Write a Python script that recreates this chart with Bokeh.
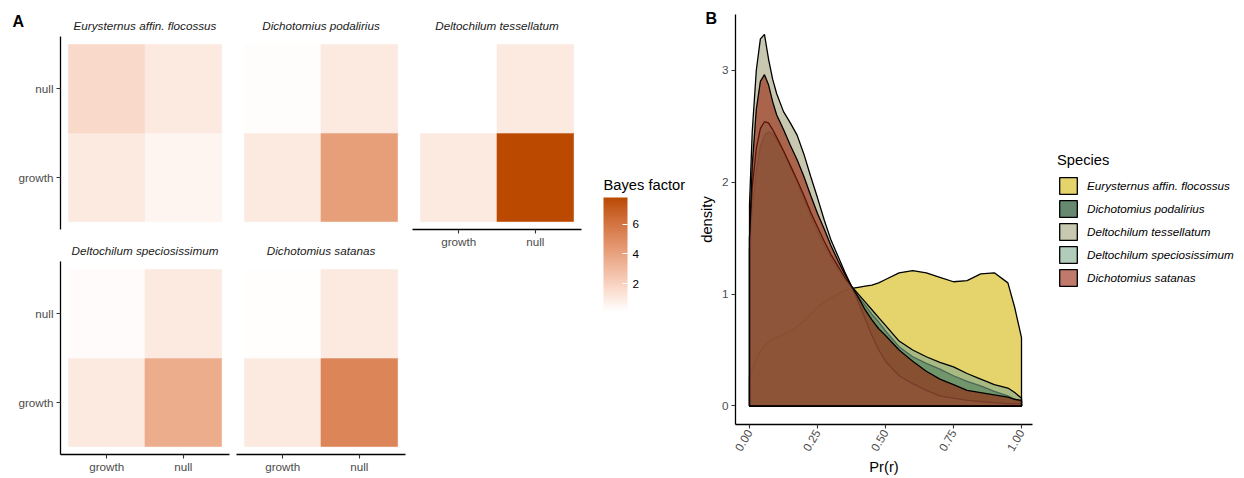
import numpy as np
from math import pi
from bokeh.plotting import figure
from bokeh.layouts import row, column
from bokeh.models import (ColumnDataSource, FactorRange, Range1d, LinearColorMapper, ColorBar,
                          FixedTicker, Legend, LegendItem, PrintfTickFormatter)
from bokeh.embed import file_html
from bokeh.resources import INLINE

# ---------------- data ----------------
species = ["Eurysternus affin. flocossus", "Dichotomius podalirius", "Deltochilum tessellatum",
           "Deltochilum speciosissimum", "Dichotomius satanas"]
models = ["growth", "null"]

# heatmap cells: x model, y model
cell_x = ["growth", "null", "growth", "null"]
cell_y = ["growth", "growth", "null", "null"]
bf_eurysternus = [1.0, 0.6, 1.7, 1.0]
bf_podalirius = [1.0, 4.2, 0.24, 1.0]
bf_tessellatum = [1.0, 7.8, 0.128, 1.0]
bf_speciosissimum = [1.0, 3.6, 0.28, 1.0]
bf_satanas = [1.0, 5.3, 0.19, 1.0]
colorbar_ticks = [2, 4, 6]

# density curves (panel B)
pr_r = [0, 0.01, 0.025, 0.04, 0.055, 0.07, 0.085, 0.1, 0.125, 0.15, 0.175, 0.2, 0.225, 0.25,
        0.275, 0.3, 0.325, 0.35, 0.375, 0.4, 0.425, 0.45, 0.475, 0.5, 0.55, 0.6, 0.65, 0.7,
        0.75, 0.8, 0.85, 0.9, 0.95, 0.975, 1.0]
dens_eurysternus = [0.26, 0.33, 0.42, 0.49, 0.54, 0.57, 0.6, 0.61, 0.64, 0.67, 0.71, 0.76, 0.82, 0.88,
                    0.93, 0.97, 1.0, 1.03, 1.05, 1.06, 1.07, 1.08, 1.1, 1.13, 1.19, 1.21, 1.19, 1.15,
                    1.11, 1.12, 1.18, 1.19, 1.1, 0.88, 0.61]
dens_podalirius = [1.4, 1.75, 2.1, 2.32, 2.42, 2.45, 2.43, 2.38, 2.27, 2.14, 2.0, 1.85, 1.7, 1.56,
                   1.43, 1.32, 1.22, 1.13, 1.06, 0.98, 0.9, 0.82, 0.75, 0.67, 0.53, 0.44, 0.38, 0.33,
                   0.27, 0.22, 0.18, 0.13, 0.09, 0.06, 0.04]
dens_tessellatum = [1.8, 2.45, 3.0, 3.28, 3.32, 3.1, 2.92, 2.79, 2.63, 2.53, 2.42, 2.25, 2.05, 1.86,
                    1.66, 1.48, 1.34, 1.2, 1.07, 0.93, 0.78, 0.63, 0.5, 0.4, 0.27, 0.2, 0.14, 0.09,
                    0.07, 0.05, 0.04, 0.03, 0.02, 0.02, 0.02]
dens_speciosissimum = [1.5, 1.95, 2.3, 2.48, 2.54, 2.53, 2.47, 2.4, 2.28, 2.15, 2.02, 1.88, 1.73, 1.6,
                       1.47, 1.35, 1.25, 1.15, 1.07, 1.0, 0.93, 0.86, 0.79, 0.72, 0.58, 0.5, 0.44, 0.39,
                       0.35, 0.29, 0.24, 0.19, 0.16, 0.12, 0.07]
dens_satanas = [1.5, 2.15, 2.65, 2.9, 2.96, 2.87, 2.72, 2.6, 2.47, 2.33, 2.2, 2.05, 1.88, 1.72,
                1.58, 1.43, 1.3, 1.18, 1.07, 0.97, 0.86, 0.77, 0.69, 0.63, 0.5, 0.4, 0.31, 0.24,
                0.19, 0.14, 0.12, 0.1, 0.08, 0.06, 0.05]
x_ticks_B = [0, 0.25, 0.5, 0.75, 1.0]
y_ticks_B = [0, 1, 2, 3]

bf_lists = [bf_eurysternus, bf_podalirius, bf_tessellatum, bf_speciosissimum, bf_satanas]
dens_lists = [dens_eurysternus, dens_podalirius, dens_tessellatum, dens_speciosissimum, dens_satanas]
fill_colors = ["#D4B60A", "#003C11", "#A3A37B", "#7FAA8F", "#96210A"]

FONT = "Liberation Sans"
TICK_COL = "#4D4D4D"

# ---------------- Lab gradient palette (white -> dark orange) ----------------
def _hex_to_rgb(h):
    h = h.lstrip("#")
    return np.array([int(h[i:i + 2], 16) for i in (0, 2, 4)], dtype=float) / 255.0

M = np.array([[0.4124, 0.3576, 0.1805], [0.2126, 0.7152, 0.0722], [0.0193, 0.1192, 0.9505]])
WHITE = np.array([0.95047, 1.0, 1.08883])

def _to_lab(rgb):
    lin = np.where(rgb <= 0.04045, rgb / 12.92, ((rgb + 0.055) / 1.055) ** 2.4)
    xyz = M @ lin / WHITE
    d = 6 / 29
    f = np.where(xyz > d ** 3, np.cbrt(xyz), xyz / (3 * d * d) + 4 / 29)
    return np.array([116 * f[1] - 16, 500 * (f[0] - f[1]), 200 * (f[1] - f[2])])

def _from_lab(lab):
    L, a, b = lab
    fy = (L + 16) / 116
    fx = fy + a / 500
    fz = fy - b / 200
    d = 6 / 29
    f = np.array([fx, fy, fz])
    xyz = np.where(f > d, f ** 3, 3 * d * d * (f - 4 / 29)) * WHITE
    lin = np.linalg.solve(M, xyz)
    lin = np.clip(lin, 0, 1)
    rgb = np.where(lin <= 0.0031308, 12.92 * lin, 1.055 * lin ** (1 / 2.4) - 0.055)
    rgb = np.clip(np.round(rgb * 255), 0, 255).astype(int)
    return "#%02X%02X%02X" % tuple(rgb)

lab_lo = _to_lab(_hex_to_rgb("#FFFFFF"))
lab_hi = _to_lab(_hex_to_rgb("#BB4A00"))
palette = [_from_lab(lab_lo + (lab_hi - lab_lo) * t) for t in np.linspace(0, 1, 256)]

all_bf = [v for lst in bf_lists for v in lst]
mapper = LinearColorMapper(palette=palette, low=min(all_bf), high=max(all_bf))


def style_axis(ax):
    ax.axis_line_color = "black"
    ax.axis_line_width = 1.3
    ax.major_tick_line_color = "#333333"
    ax.major_tick_line_width = 1.1
    ax.major_tick_out = 4
    ax.major_tick_in = 0
    ax.minor_tick_line_color = None
    ax.major_label_text_font = FONT
    ax.major_label_text_font_size = "11.7px"
    ax.major_label_text_color = TICK_COL
    ax.major_label_standoff = 3


def panel_tag(text, x, y):
    # an unclipped text tag (panel letter) placed in screen units relative to the frame
    return ColorBar(color_mapper=LinearColorMapper(palette=["#FFFFFF"], low=0, high=1),
                    orientation="horizontal", width=12, height=1, location=(x, y), padding=0,
                    title=text, title_text_font=FONT, title_text_font_size="16px",
                    title_text_font_style="bold", title_text_color="black", title_standoff=0,
                    ticker=FixedTicker(ticks=[]), major_tick_line_color=None,
                    minor_tick_line_color=None, bar_line_color=None, border_line_color=None,
                    background_fill_alpha=0, scale_alpha=0, major_label_text_alpha=0)


def facet(i, show_x, show_y, width, height, mbl, mbr, mbt, mbb):
    p = figure(width=width, height=height,
               x_range=FactorRange(factors=models, range_padding=0.104, range_padding_units="absolute"),
               y_range=FactorRange(factors=models, range_padding=0.09, range_padding_units="absolute"),
               x_axis_location="below" if show_x else None,
               y_axis_location="left" if show_y else None,
               output_backend="svg", toolbar_location=None,
               min_border_left=mbl, min_border_right=mbr, min_border_top=mbt, min_border_bottom=mbb)
    p.outline_line_color = None
    p.grid.visible = False
    src = ColumnDataSource(dict(x=cell_x, y=cell_y, bf=bf_lists[i]))
    p.rect(x="x", y="y", width=1, height=1, source=src,
           fill_color={"field": "bf", "transform": mapper},
           line_color={"field": "bf", "transform": mapper}, line_width=0.6)
    p.title.text = species[i]
    p.title.align = "center"
    p.title.text_font = FONT
    p.title.text_font_size = "11.7px"
    p.title.text_font_style = "italic"
    p.title.text_color = "#1A1A1A"
    if "standoff" in p.title.properties():
        p.title.standoff = 10
    for ax in p.xaxis + p.yaxis:
        style_axis(ax)
    for ax in p.xaxis:
        ax.major_label_standoff = 1
    return p


f1 = facet(0, False, True, 232, 236, 60, 3, 36, 7)
f2 = facet(1, False, False, 176, 236, 4, 3, 36, 7)
f3 = facet(2, True, False, 177, 478, 4, 4, 36, 249)
f4 = facet(3, True, True, 232, 242, 60, 3, 25, 24)
f5 = facet(4, True, False, 176, 242, 4, 3, 25, 24)

f1.add_layout(panel_tag("A", -48, 198.5))

# colour-bar legend figure
fL = figure(width=105, height=478, output_backend="svg", toolbar_location=None,
            x_axis_location=None, y_axis_location=None, title="Bayes factor",
            min_border_left=18, min_border_right=3, min_border_top=197, min_border_bottom=167)
fL.outline_line_color = None
fL.grid.visible = False
fL.title.align = "left"
fL.title.text_font = FONT
fL.title.text_font_size = "14.7px"
fL.title.text_font_style = "normal"
fL.title.text_color = "black"
if "standoff" in fL.title.properties():
    fL.title.standoff = 10
cb = ColorBar(color_mapper=mapper, ticker=FixedTicker(ticks=colorbar_ticks), width=24, height=114,
              location=(0, 0), padding=0,
              major_label_text_font=FONT, major_label_text_font_size="11.7px",
              major_label_text_color="black", label_standoff=5,
              major_tick_line_color="white", major_tick_in=5, major_tick_out=0,
              minor_tick_line_color=None, bar_line_color=None, border_line_color=None,
              background_fill_alpha=0)
fL.add_layout(cb)

# ---------------- panel B ----------------
pB = figure(width=350, height=478, x_range=Range1d(-0.0515, 1.0404), y_range=Range1d(-0.1655, 3.498),
            output_backend="svg", toolbar_location=None, title=None,
            min_border_left=45, min_border_right=8, min_border_top=14, min_border_bottom=50)
pB.outline_line_color = None
pB.grid.visible = False

area_x = [pr_r[0]] + list(pr_r) + [pr_r[-1]]
area_y = [[0] + list(d) + [0] for d in dens_lists]
for i, s in enumerate(species):
    pB.patch(x=area_x, y=area_y[i], fill_color=fill_colors[i], fill_alpha=0.6,
             line_color="black", line_width=1.3)

for ax in pB.xaxis + pB.yaxis:
    style_axis(ax)
    ax.axis_label_text_font = FONT
    ax.axis_label_text_font_size = "14.7px"
    ax.axis_label_text_font_style = "normal"
    ax.axis_label_text_color = "black"
pB.xaxis.ticker = FixedTicker(ticks=x_ticks_B, minor_ticks=[])
pB.xaxis.formatter = PrintfTickFormatter(format="%.2f")
pB.xaxis.major_label_orientation = pi / 3
pB.xaxis.major_label_standoff = 2
pB.xaxis.axis_label = "Pr(r)"
pB.xaxis.axis_label_standoff = 2
pB.yaxis.ticker = FixedTicker(ticks=y_ticks_B, minor_ticks=[])
pB.yaxis.axis_label = "density"
pB.yaxis.axis_label_standoff = 4

pB.add_layout(panel_tag("B", -30, 396.5))

# species legend figure (keys styled like the density areas; the key renderers are hidden)
fS = figure(width=204, height=478, output_backend="svg", toolbar_location=None,
            x_axis_location=None, y_axis_location=None, title=None,
            x_range=Range1d(0, 1), y_range=Range1d(0, 1),
            min_border_left=0, min_border_right=0, min_border_top=0, min_border_bottom=0)
fS.outline_line_color = None
fS.grid.visible = False
items = []
for i, s in enumerate(species):
    r = fS.patch(x=area_x, y=area_y[i], fill_color=fill_colors[i], fill_alpha=0.6,
                 line_color="black", line_width=1.3, visible=False)
    items.append(LegendItem(label=s, renderers=[r]))
legend = Legend(items=items, location=(17, 190), title="Species",
                title_text_font=FONT, title_text_font_size="14.7px", title_text_font_style="normal",
                title_text_color="black", title_standoff=7,
                label_text_font=FONT, label_text_font_size="11.7px", label_text_font_style="italic",
                label_text_color="black", glyph_width=22, glyph_height=21, label_height=21,
                spacing=2, label_standoff=8, padding=5, margin=0,
                inactive_fill_alpha=0, click_policy="none",
                border_line_color=None, background_fill_alpha=0)
fS.add_layout(legend)

panelA = row(column(f1, f4), column(f2, f5), f3)
layout = row(panelA, column(fL), column(pB), column(fS))
open("out.html", "w").write(file_html(layout, INLINE))
